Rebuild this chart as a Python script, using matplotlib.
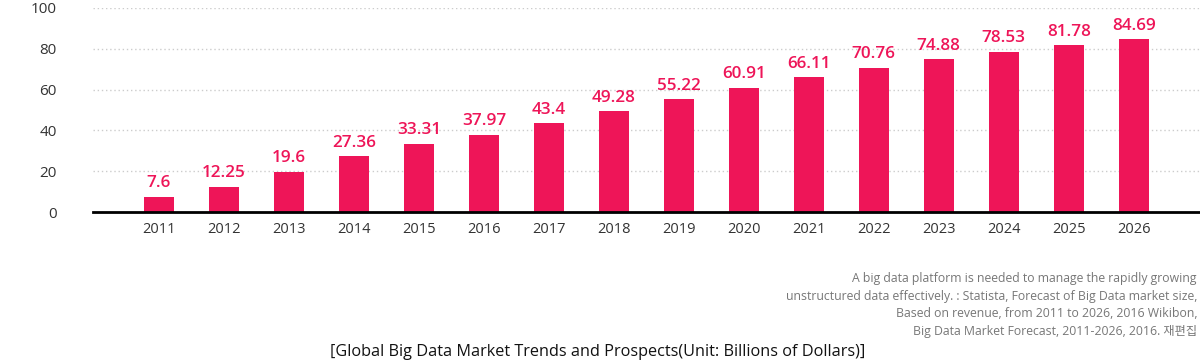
import matplotlib.pyplot as plt

plt.rcParams['font.family'] = ['Open Sans', 'Noto Sans CJK KR']

years = ['2011', '2012', '2013', '2014', '2015', '2016', '2017', '2018',
         '2019', '2020', '2021', '2022', '2023', '2024', '2025', '2026']
market = [7.6, 12.25, 19.6, 27.36, 33.31, 37.97, 43.4, 49.28,
          55.22, 60.91, 66.11, 70.76, 74.88, 78.53, 81.78, 84.69]
labels = ['7.6', '12.25', '19.6', '27.36', '33.31', '37.97', '43.4', '49.28',
          '55.22', '60.91', '66.11', '70.76', '74.88', '78.53', '81.78', '84.69']
y_ticks = [0, 20, 40, 60, 80, 100]

pink = '#ee1558'

fig = plt.figure(figsize=(12, 3.6), dpi=100)
ax = fig.add_axes([0.0775, 0.411, 0.9225, 0.567])

x = list(range(len(years)))
ax.bar(x, market, width=0.46, color=pink, zorder=3)
for xi, v, lab in zip(x, market, labels):
    ax.annotate(lab, (xi, v), xytext=(0, 4), textcoords='offset points',
                ha='center', va='bottom', color=pink, fontsize=12.3, fontweight='semibold')

ax.set_xlim(-1.015, 16.02)
ax.set_ylim(0, 100)
ax.set_yticks(y_ticks)
ax.set_xticks(x)
ax.set_xticklabels(years)
ax.tick_params(axis='both', length=0, labelsize=10.5, labelcolor='#333333')
ax.tick_params(axis='y', labelsize=11)
ax.tick_params(axis='x', pad=7)
ax.tick_params(axis='y', pad=26)
for s in ['left', 'right', 'top']:
    ax.spines[s].set_visible(False)
ax.spines['bottom'].set_linewidth(2)
ax.spines['bottom'].set_color('black')
ax.spines['bottom'].set_zorder(4)
ax.yaxis.grid(True, linestyle=(0, (1, 2)), color='#cccccc', linewidth=1)
ax.set_axisbelow(True)

note = ("A big data platform is needed to manage the rapidly growing\n"
        "unstructured data effectively. : Statista, Forecast of Big Data market size,\n"
        "Based on revenue, from 2011 to 2026, 2016 Wikibon,\n"
        "Big Data Market Forecast, 2011-2026, 2016. 재편집")
fig.text(0.9975, 0.153, note, ha='right', va='center', fontsize=8.8,
         color='#777777', linespacing=1.45)
fig.text(0.498, 0.022, '[Global Big Data Market Trends and Prospects(Unit: Billions of Dollars)]',
         ha='center', va='center', fontsize=11.7, color='#111111')

fig.savefig('out.png', dpi=100)
